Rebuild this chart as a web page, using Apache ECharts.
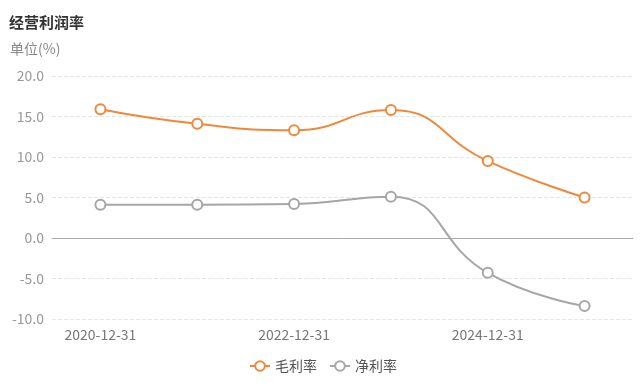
<!DOCTYPE html>
<html><head><meta charset="utf-8">
<script src="https://cdn.jsdelivr.net/npm/echarts@6/dist/echarts.min.js"></script>
<style>html,body{margin:0;padding:0;background:#fff}#c{width:640px;height:388px}</style>
</head><body><div id="c"></div>
<script>
const categories = ['2020-12-31','2021-12-31','2022-12-31','2023-12-31','2024-12-31','2025-12-31'];
const grossMargin = [15.9, 14.1, 13.3, 15.8, 9.5, 5.0];
const netMargin = [4.1, 4.1, 4.2, 5.1, -4.3, -8.4];
const yTicks = {min: -10, max: 20, interval: 5};

const chart = echarts.init(document.getElementById('c'));
const font = '"Noto Sans CJK SC","Microsoft YaHei",sans-serif';
chart.setOption({
  animation: false,
  textStyle: {fontFamily: font},
  title: {text: '经营利润率', left: 4, top: 10, textStyle: {fontSize: 15, fontWeight: 'bold', color: '#333', fontFamily: font}},
  legend: {bottom: 10, left: 244, itemWidth: 20, itemHeight: 12, itemGap: 12,
    textStyle: {fontSize: 14, color: '#555', fontFamily: font},
    data: ['毛利率', '净利率']},
  grid: {left: 52, right: 7, top: 76, bottom: 69, outerBoundsMode: 'none'},
  xAxis: [
    {type: 'category', data: categories, boundaryGap: true,
      axisLine: {onZero: true, lineStyle: {color: '#aaa'}},
      axisTick: {alignWithLabel: true, interval: 1, length: 4, lineStyle: {color: '#aaa'}},
      axisLabel: {show: false}},
    {type: 'category', data: categories, boundaryGap: true, position: 'bottom',
      axisLine: {show: false, onZero: false}, axisTick: {show: false},
      axisLabel: {interval: 1, color: '#777', fontSize: 14, margin: 9, fontFamily: font}}
  ],
  yAxis: {type: 'value', min: yTicks.min, max: yTicks.max, interval: yTicks.interval,
    name: '单位(%)', nameLocation: 'end', nameGap: 20,
    nameTextStyle: {color: '#888', fontSize: 14, align: 'left', padding: [0, 0, 0, -42], fontFamily: font},
    axisLabel: {color: '#999', fontSize: 14, formatter: v => v.toFixed(1), fontFamily: font},
    axisLine: {show: false}, axisTick: {show: false},
    splitLine: {lineStyle: {type: 'dashed', color: '#e6e6e6'}}},
  series: [
    {name: '毛利率', type: 'line', data: grossMargin, smooth: true, symbol: 'emptyCircle', symbolSize: 10,
      itemStyle: {color: '#f0883b', borderWidth: 2}, lineStyle: {width: 2, color: '#f0883b'}},
    {name: '净利率', type: 'line', data: netMargin, smooth: true, symbol: 'emptyCircle', symbolSize: 10,
      itemStyle: {color: '#a6a6a6', borderWidth: 2}, lineStyle: {width: 2, color: '#a6a6a6'}}
  ]
});
</script></body></html>
